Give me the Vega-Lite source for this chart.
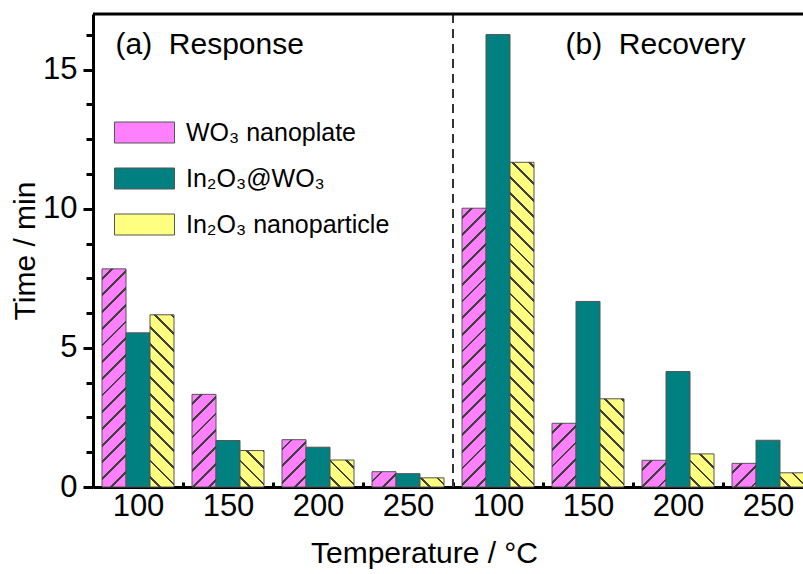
{
  "$schema": "https://vega.github.io/schema/vega-lite/v6.json",
  "width": 710,
  "height": 473,
  "autosize": {"type": "none"},
  "padding": {"left": 93, "top": 14, "right": 0, "bottom": 87},
  "background": "white",
  "params": [
    {"name": "hatchStops", "value": [
      {"offset": 0.0167, "color": "rgba(0,0,0,0)"}, {"offset": 0.0167, "color": "#404040"}, {"offset": 0.0224, "color": "#404040"}, {"offset": 0.0224, "color": "rgba(0,0,0,0)"},
      {"offset": 0.05, "color": "rgba(0,0,0,0)"}, {"offset": 0.05, "color": "#404040"}, {"offset": 0.0557, "color": "#404040"}, {"offset": 0.0557, "color": "rgba(0,0,0,0)"},
      {"offset": 0.0833, "color": "rgba(0,0,0,0)"}, {"offset": 0.0833, "color": "#404040"}, {"offset": 0.089, "color": "#404040"}, {"offset": 0.089, "color": "rgba(0,0,0,0)"},
      {"offset": 0.1167, "color": "rgba(0,0,0,0)"}, {"offset": 0.1167, "color": "#404040"}, {"offset": 0.1224, "color": "#404040"}, {"offset": 0.1224, "color": "rgba(0,0,0,0)"},
      {"offset": 0.15, "color": "rgba(0,0,0,0)"}, {"offset": 0.15, "color": "#404040"}, {"offset": 0.1557, "color": "#404040"}, {"offset": 0.1557, "color": "rgba(0,0,0,0)"},
      {"offset": 0.1833, "color": "rgba(0,0,0,0)"}, {"offset": 0.1833, "color": "#404040"}, {"offset": 0.189, "color": "#404040"}, {"offset": 0.189, "color": "rgba(0,0,0,0)"},
      {"offset": 0.2167, "color": "rgba(0,0,0,0)"}, {"offset": 0.2167, "color": "#404040"}, {"offset": 0.2224, "color": "#404040"}, {"offset": 0.2224, "color": "rgba(0,0,0,0)"},
      {"offset": 0.25, "color": "rgba(0,0,0,0)"}, {"offset": 0.25, "color": "#404040"}, {"offset": 0.2557, "color": "#404040"}, {"offset": 0.2557, "color": "rgba(0,0,0,0)"},
      {"offset": 0.2833, "color": "rgba(0,0,0,0)"}, {"offset": 0.2833, "color": "#404040"}, {"offset": 0.289, "color": "#404040"}, {"offset": 0.289, "color": "rgba(0,0,0,0)"},
      {"offset": 0.3167, "color": "rgba(0,0,0,0)"}, {"offset": 0.3167, "color": "#404040"}, {"offset": 0.3224, "color": "#404040"}, {"offset": 0.3224, "color": "rgba(0,0,0,0)"},
      {"offset": 0.35, "color": "rgba(0,0,0,0)"}, {"offset": 0.35, "color": "#404040"}, {"offset": 0.3557, "color": "#404040"}, {"offset": 0.3557, "color": "rgba(0,0,0,0)"},
      {"offset": 0.3833, "color": "rgba(0,0,0,0)"}, {"offset": 0.3833, "color": "#404040"}, {"offset": 0.389, "color": "#404040"}, {"offset": 0.389, "color": "rgba(0,0,0,0)"},
      {"offset": 0.4167, "color": "rgba(0,0,0,0)"}, {"offset": 0.4167, "color": "#404040"}, {"offset": 0.4224, "color": "#404040"}, {"offset": 0.4224, "color": "rgba(0,0,0,0)"},
      {"offset": 0.45, "color": "rgba(0,0,0,0)"}, {"offset": 0.45, "color": "#404040"}, {"offset": 0.4557, "color": "#404040"}, {"offset": 0.4557, "color": "rgba(0,0,0,0)"},
      {"offset": 0.4833, "color": "rgba(0,0,0,0)"}, {"offset": 0.4833, "color": "#404040"}, {"offset": 0.489, "color": "#404040"}, {"offset": 0.489, "color": "rgba(0,0,0,0)"},
      {"offset": 0.5167, "color": "rgba(0,0,0,0)"}, {"offset": 0.5167, "color": "#404040"}, {"offset": 0.5224, "color": "#404040"}, {"offset": 0.5224, "color": "rgba(0,0,0,0)"},
      {"offset": 0.55, "color": "rgba(0,0,0,0)"}, {"offset": 0.55, "color": "#404040"}, {"offset": 0.5557, "color": "#404040"}, {"offset": 0.5557, "color": "rgba(0,0,0,0)"},
      {"offset": 0.5833, "color": "rgba(0,0,0,0)"}, {"offset": 0.5833, "color": "#404040"}, {"offset": 0.589, "color": "#404040"}, {"offset": 0.589, "color": "rgba(0,0,0,0)"},
      {"offset": 0.6167, "color": "rgba(0,0,0,0)"}, {"offset": 0.6167, "color": "#404040"}, {"offset": 0.6224, "color": "#404040"}, {"offset": 0.6224, "color": "rgba(0,0,0,0)"},
      {"offset": 0.65, "color": "rgba(0,0,0,0)"}, {"offset": 0.65, "color": "#404040"}, {"offset": 0.6557, "color": "#404040"}, {"offset": 0.6557, "color": "rgba(0,0,0,0)"},
      {"offset": 0.6833, "color": "rgba(0,0,0,0)"}, {"offset": 0.6833, "color": "#404040"}, {"offset": 0.689, "color": "#404040"}, {"offset": 0.689, "color": "rgba(0,0,0,0)"},
      {"offset": 0.7167, "color": "rgba(0,0,0,0)"}, {"offset": 0.7167, "color": "#404040"}, {"offset": 0.7224, "color": "#404040"}, {"offset": 0.7224, "color": "rgba(0,0,0,0)"},
      {"offset": 0.75, "color": "rgba(0,0,0,0)"}, {"offset": 0.75, "color": "#404040"}, {"offset": 0.7557, "color": "#404040"}, {"offset": 0.7557, "color": "rgba(0,0,0,0)"},
      {"offset": 0.7833, "color": "rgba(0,0,0,0)"}, {"offset": 0.7833, "color": "#404040"}, {"offset": 0.789, "color": "#404040"}, {"offset": 0.789, "color": "rgba(0,0,0,0)"},
      {"offset": 0.8167, "color": "rgba(0,0,0,0)"}, {"offset": 0.8167, "color": "#404040"}, {"offset": 0.8224, "color": "#404040"}, {"offset": 0.8224, "color": "rgba(0,0,0,0)"},
      {"offset": 0.85, "color": "rgba(0,0,0,0)"}, {"offset": 0.85, "color": "#404040"}, {"offset": 0.8557, "color": "#404040"}, {"offset": 0.8557, "color": "rgba(0,0,0,0)"},
      {"offset": 0.8833, "color": "rgba(0,0,0,0)"}, {"offset": 0.8833, "color": "#404040"}, {"offset": 0.889, "color": "#404040"}, {"offset": 0.889, "color": "rgba(0,0,0,0)"},
      {"offset": 0.9167, "color": "rgba(0,0,0,0)"}, {"offset": 0.9167, "color": "#404040"}, {"offset": 0.9224, "color": "#404040"}, {"offset": 0.9224, "color": "rgba(0,0,0,0)"},
      {"offset": 0.95, "color": "rgba(0,0,0,0)"}, {"offset": 0.95, "color": "#404040"}, {"offset": 0.9557, "color": "#404040"}, {"offset": 0.9557, "color": "rgba(0,0,0,0)"},
      {"offset": 0.9833, "color": "rgba(0,0,0,0)"}, {"offset": 0.9833, "color": "#404040"}, {"offset": 0.989, "color": "#404040"}, {"offset": 0.989, "color": "rgba(0,0,0,0)"}
    ]}
  ],
  "config": {
    "view": {"stroke": null},
    "font": "Liberation Sans",
    "axis": {"grid": false, "domainColor": "black", "domainWidth": 3, "tickColor": "black", "labelColor": "black", "titleColor": "black", "labelFont": "Liberation Sans", "titleFont": "Liberation Sans", "titleFontWeight": "normal"}
  },
  "data": {"values": [
    {"key": "a100", "material": "WO₃ nanoplate", "time": 7.84},
    {"key": "a100", "material": "In₂O₃@WO₃", "time": 5.54},
    {"key": "a100", "material": "In₂O₃ nanoparticle", "time": 6.19},
    {"key": "a150", "material": "WO₃ nanoplate", "time": 3.33},
    {"key": "a150", "material": "In₂O₃@WO₃", "time": 1.67},
    {"key": "a150", "material": "In₂O₃ nanoparticle", "time": 1.31},
    {"key": "a200", "material": "WO₃ nanoplate", "time": 1.70},
    {"key": "a200", "material": "In₂O₃@WO₃", "time": 1.43},
    {"key": "a200", "material": "In₂O₃ nanoparticle", "time": 0.97},
    {"key": "a250", "material": "WO₃ nanoplate", "time": 0.55},
    {"key": "a250", "material": "In₂O₃@WO₃", "time": 0.48},
    {"key": "a250", "material": "In₂O₃ nanoparticle", "time": 0.33},
    {"key": "b100", "material": "WO₃ nanoplate", "time": 10.02},
    {"key": "b100", "material": "In₂O₃@WO₃", "time": 16.26},
    {"key": "b100", "material": "In₂O₃ nanoparticle", "time": 11.67},
    {"key": "b150", "material": "WO₃ nanoplate", "time": 2.29},
    {"key": "b150", "material": "In₂O₃@WO₃", "time": 6.67},
    {"key": "b150", "material": "In₂O₃ nanoparticle", "time": 3.17},
    {"key": "b200", "material": "WO₃ nanoplate", "time": 0.96},
    {"key": "b200", "material": "In₂O₃@WO₃", "time": 4.15},
    {"key": "b200", "material": "In₂O₃ nanoparticle", "time": 1.19},
    {"key": "b250", "material": "WO₃ nanoplate", "time": 0.85},
    {"key": "b250", "material": "In₂O₃@WO₃", "time": 1.68},
    {"key": "b250", "material": "In₂O₃ nanoparticle", "time": 0.51}
  ]},
  "encoding": {
    "x": {
      "field": "key", "type": "nominal",
      "scale": {"domain": ["a100","a150","a200","a250","b100","b150","b200","b250"], "range": [0, 720], "paddingInner": 0, "paddingOuter": 0},
      "axis": {
        "title": "Temperature / °C",
        "titleFontSize": 30,
        "titleX": 331,
        "titlePadding": 17,
        "labelExpr": "slice(datum.label, 1)",
        "labelFontSize": 31,
        "labelAngle": 0,
        "labelPadding": 9,
        "tickBand": "extent",
        "tickSize": -5,
        "tickWidth": 3
      }
    },
    "xOffset": {
      "field": "material", "type": "nominal",
      "scale": {"domain": ["WO₃ nanoplate", "In₂O₃@WO₃", "In₂O₃ nanoparticle"], "paddingInner": 0, "paddingOuter": 0.375}
    },
    "y": {
      "field": "time", "type": "quantitative",
      "scale": {"domain": [0, 17], "nice": false},
      "axis": {
        "title": "Time / min",
        "titleFontSize": 30,
        "titlePadding": 2,
        "values": [0,1.25,2.5,3.75,5,6.25,7.5,8.75,10,11.25,12.5,13.75,15,16.25],
        "labelExpr": "datum.value % 5 === 0 ? datum.label : ''",
        "labelFontSize": 31,
        "labelPadding": 6,
        "tickWidth": 3,
        "tickSize": {"condition": {"test": "datum.value % 5 === 0", "value": 10}, "value": 7}
      }
    }
  },
  "layer": [
    {
      "mark": {"type": "bar", "stroke": "#555555", "strokeWidth": 1},
      "encoding": {
        "fill": {
          "field": "material", "type": "nominal",
          "scale": {"domain": ["WO₃ nanoplate", "In₂O₃@WO₃", "In₂O₃ nanoparticle"], "range": ["#FF80FF", "#008080", "#FFFF80"]},
          "legend": {
            "title": null,
            "orient": "none",
            "legendX": 21,
            "legendY": 88,
            "symbolType": "M-1,-0.35H1V0.35H-1Z",
            "symbolSize": 3600,
            "symbolStrokeColor": "#555555",
            "symbolStrokeWidth": 1,
            "symbolOpacity": 1,
            "labelFontSize": 25,
            "labelFont": "Liberation Sans",
            "labelColor": "black",
            "labelOffset": 11,
            "labelLimit": 400,
            "rowPadding": 2
          }
        }
      }
    },
    {
      "transform": [{"filter": "datum.material !== 'In₂O₃@WO₃'"}],
      "mark": {
        "type": "bar",
        "stroke": null,
        "fill": {"expr": "datum.material === 'WO₃ nanoplate' ? {gradient: 'linear', x1: 0, y1: 0, x2: 501 * bandwidth('xOffset') / (pow(bandwidth('xOffset'), 2) + pow(scale('y', 0) - scale('y', datum.time), 2)), y2: 501 * (scale('y', 0) - scale('y', datum.time)) / (pow(bandwidth('xOffset'), 2) + pow(scale('y', 0) - scale('y', datum.time), 2)), stops: hatchStops} : {gradient: 'linear', x1: 0, y1: 1, x2: 501 * bandwidth('xOffset') / (pow(bandwidth('xOffset'), 2) + pow(scale('y', 0) - scale('y', datum.time), 2)), y2: 1 - 501 * (scale('y', 0) - scale('y', datum.time)) / (pow(bandwidth('xOffset'), 2) + pow(scale('y', 0) - scale('y', datum.time), 2)), stops: hatchStops}"}
      }
    },
    {
      "data": {"values": [{"key": "b100"}]},
      "mark": {"type": "rule", "color": "#333333", "strokeWidth": 2, "strokeDash": [9, 6]},
      "encoding": {
        "x": {"field": "key", "type": "nominal", "bandPosition": 0},
        "xOffset": null,
        "y": null
      }
    },
    {
      "data": {"values": [{"top": 17}]},
      "mark": {"type": "rule", "color": "black", "strokeWidth": 3},
      "encoding": {
        "x": null,
        "xOffset": null,
        "y": {"field": "top", "type": "quantitative"}
      }
    },
    {
      "data": {"values": [
        {"key": "a100", "label": "(a)\u00a0\u00a0Response", "pos": 15.9},
        {"key": "b150", "label": "(b)\u00a0\u00a0Recovery", "pos": 15.9}
      ]},
      "mark": {"type": "text", "align": "left", "baseline": "middle", "fontSize": 30, "color": "black", "font": "Liberation Sans"},
      "encoding": {
        "x": {"field": "key", "type": "nominal", "bandPosition": 0.25},
        "xOffset": null,
        "y": {"field": "pos", "type": "quantitative"},
        "text": {"field": "label"}
      }
    }
  ]
}
